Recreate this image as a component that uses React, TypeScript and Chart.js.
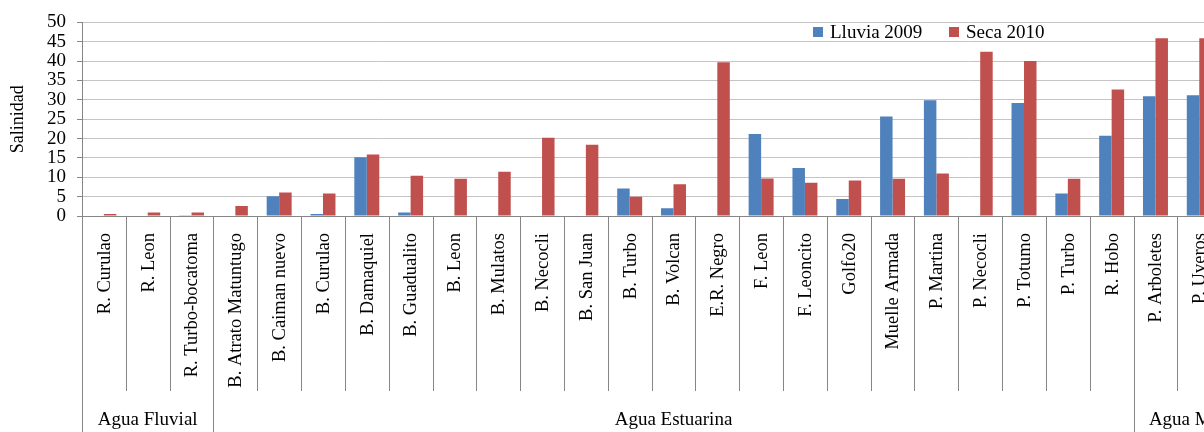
import React, { useEffect, useRef } from "react";
import { Chart, registerables } from "chart.js";

Chart.register(...registerables);

const categories = [
  "R. Curulao", "R. Leon", "R. Turbo-bocatoma",
  "B. Atrato Matuntugo", "B. Caiman nuevo", "B. Curulao", "B. Damaquiel", "B. Guadualito",
  "B. Leon", "B. Mulatos", "B. Necocli", "B. San Juan", "B. Turbo", "B. Volcan",
  "E.R. Negro", "F. Leon", "F. Leoncito", "Golfo20", "Muelle Armada", "P. Martina",
  "P. Necocli", "P. Totumo", "P. Turbo", "R. Hobo",
  "P. Arboletes", "P. Uveros", "P. Zapata",
];

const groupNames = ["Agua Fluvial", "Agua Estuarina", "Agua Marina"];
const groupSizes = [3, 21, 3];

const lluvia2009 = [
  0, 0, 0.2,
  0, 5.1, 0.5, 15.2, 0.9, 0, 0, 0, 0, 7.1, 2.0, 0, 21.2, 12.4, 4.4, 25.7, 29.9, 0, 29.2, 5.8, 20.7,
  30.9, 31.2, 30.5,
];
const seca2010 = [
  0.5, 0.9, 0.9,
  2.6, 6.1, 5.8, 15.9, 10.4, 9.6, 11.4, 20.2, 18.4, 5.0, 8.2, 39.7, 9.7, 8.6, 9.2, 9.6, 11.0, 42.4, 40.0, 9.6, 32.7,
  45.9, 45.9, 44.5,
];

const seriesNames = ["Lluvia 2009", "Seca 2010"];
const seriesColors = ["#4f81bd", "#c0504d"];
const yMin = 0;
const yMax = 50;
const yStep = 5;
const yTitle = "Salinidad";

const SERIF = "Liberation Serif";

Chart.defaults.font.family = SERIF;

const multiLevelAxis = {
  id: "multiLevelAxis",
  afterDraw(chart: any) {
    const ctx: CanvasRenderingContext2D = chart.ctx;
    const xs = chart.scales.x;
    const bottom = chart.chartArea.bottom;
    ctx.save();

    const bounds: number[] = [0];
    let acc = 0;
    groupSizes.forEach((s) => {
      acc += s;
      bounds.push(acc);
    });

    ctx.strokeStyle = "#868686";
    ctx.lineWidth = 1;
    for (let i = 0; i <= categories.length; i++) {
      const px = Math.round(xs.getPixelForValue(i - 0.5)) + 0.5;
      const isGroup = bounds.includes(i);
      ctx.beginPath();
      ctx.moveTo(px, bottom);
      ctx.lineTo(px, isGroup ? chart.height : bottom + 175);
      ctx.stroke();
    }

    ctx.fillStyle = "#000";
    ctx.font = `18.5px "${SERIF}"`;
    ctx.textAlign = "right";
    ctx.textBaseline = "middle";
    categories.forEach((c, i) => {
      const px = xs.getPixelForValue(i);
      ctx.save();
      ctx.translate(px + 1, bottom + 17);
      ctx.rotate(-Math.PI / 2);
      ctx.fillText(c, 0, 0);
      ctx.restore();
    });

    ctx.font = `19px "${SERIF}"`;
    ctx.textAlign = "center";
    ctx.textBaseline = "alphabetic";
    groupNames.forEach((g, k) => {
      const a = xs.getPixelForValue(bounds[k] - 0.5);
      const b = xs.getPixelForValue(bounds[k + 1] - 0.5);
      ctx.fillText(g, (a + b) / 2, bottom + 209);
    });

    ctx.font = `19px "${SERIF}"`;
    ctx.textAlign = "left";
    const legendX = [813, 949];
    chart.data.datasets.forEach((ds: any, k: number) => {
      const lx = legendX[k];
      ctx.fillStyle = ds.backgroundColor;
      ctx.fillRect(lx, 27, 10, 10);
      ctx.fillStyle = "#000";
      ctx.fillText(ds.label, lx + 17, 38);
    });

    ctx.restore();
  },
};

export default function App() {
  const canvasRef = useRef<HTMLCanvasElement | null>(null);

  useEffect(() => {
    if (!canvasRef.current) return;
    const chart = new Chart(canvasRef.current, {
      type: "bar",
      data: {
        labels: categories,
        datasets: [
          { label: seriesNames[0], data: lluvia2009, backgroundColor: seriesColors[0] },
          { label: seriesNames[1], data: seca2010, backgroundColor: seriesColors[1] },
        ],
      },
      options: {
        responsive: false,
        animation: false,
        layout: { padding: { top: 20, left: 0, right: 1, bottom: 0 } },
        datasets: {
          bar: { categoryPercentage: 0.57, barPercentage: 1.0 },
        },
        plugins: {
          legend: { display: false },
          tooltip: { enabled: false },
        },
        scales: {
          x: {
            grid: { display: false },
            border: { display: true, color: "#868686", width: 1 },
            ticks: { display: false },
            afterFit: (scale: any) => {
              scale.height = 216;
            },
          },
          y: {
            min: yMin,
            max: yMax,
            grid: { color: "#c4c4c4", lineWidth: 1, tickLength: 5, tickColor: "#868686" },
            border: { display: true, color: "#868686", width: 1 },
            ticks: {
              stepSize: yStep,
              autoSkip: false,
              color: "#000",
              padding: 11,
              font: { family: SERIF, size: 19 },
            },
            title: {
              display: true,
              text: yTitle,
              color: "#000",
              padding: { top: 7, bottom: 0 },
              font: { family: SERIF, size: 18 },
            },
            afterFit: (scale: any) => {
              scale.width = 82;
            },
          },
        },
      },
      plugins: [multiLevelAxis],
    });
    return () => chart.destroy();
  }, []);

  return (
    <div
      style={{
        position: "fixed",
        left: 0,
        top: 0,
        width: 1204,
        height: 432,
        overflow: "hidden",
        background: "#fff",
      }}
    >
      <canvas ref={canvasRef} width={1266} height={432} style={{ width: 1266, height: 432, display: "block" }} />
    </div>
  );
}
